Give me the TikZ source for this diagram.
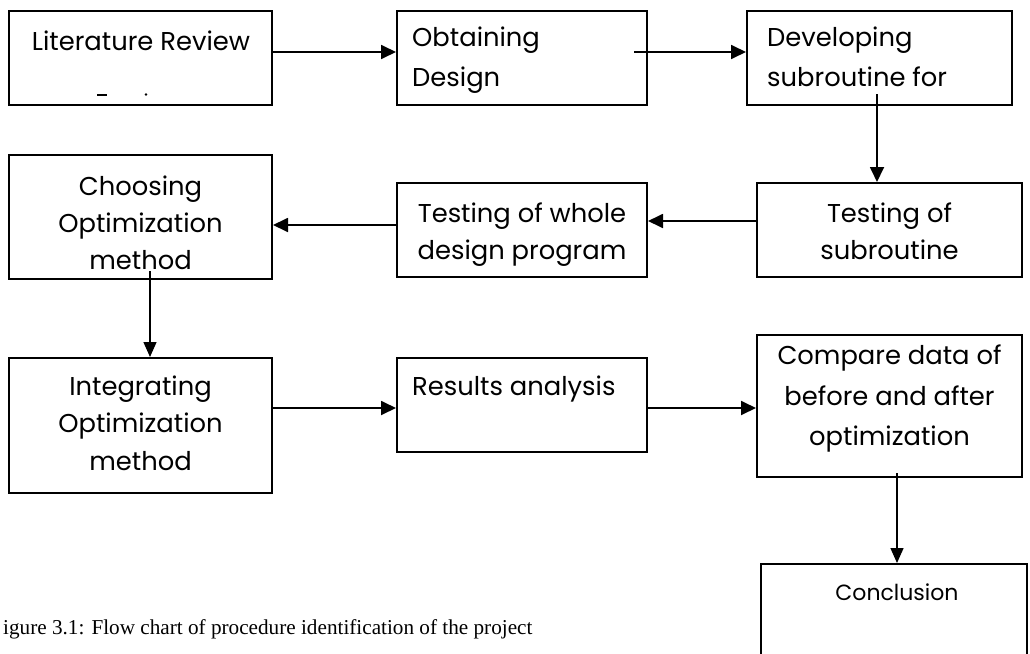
\documentclass[tikz,border=0pt]{standalone}
\usepackage{fontspec}
\setmainfont{Poppins}
\newfontfamily\capfont{Liberation Serif}
\usetikzlibrary{arrows.meta}
\begin{document}
\begin{tikzpicture}[x=1pt,y=-1pt,
  box/.style={draw, line width=2pt, rectangle, inner sep=0pt},
  txt/.style={inner sep=0pt, font=\fontsize{25.8}{26}\selectfont},
  arr/.style={line width=1.8pt, -{Triangle[length=15pt,width=14pt]}},
  thinarr/.style={line width=1.4pt, -{Triangle[length=15pt,width=13pt]}},
]
\useasboundingbox (0,0) rectangle (1030,653);

% boxes
\node[box, minimum width=263pt, minimum height=94pt] (b1) at (140.5,58) {};
\node[box, minimum width=250pt, minimum height=94pt] (b2) at (522,58) {};
\node[box, minimum width=265pt, minimum height=94pt] (b3) at (879.5,58) {};
\node[box, minimum width=265pt, minimum height=94pt] (b4) at (889.5,230) {};
\node[box, minimum width=250pt, minimum height=94pt] (b5) at (522,230) {};
\node[box, minimum width=263pt, minimum height=124pt] (b6) at (140.5,217) {};
\node[box, minimum width=263pt, minimum height=135pt] (b7) at (140.5,425.5) {};
\node[box, minimum width=250pt, minimum height=94pt] (b8) at (522,405) {};
\node[box, minimum width=265pt, minimum height=142pt] (b9) at (889.5,406) {};
\node[box, minimum width=266pt, minimum height=130pt] (b10) at (894,629) {};

% texts
\node[txt, anchor=base] (t1) at (141,50) {Literature Review};
\draw[line width=1.5pt] (97,95) -- (107,95);
\fill (146,94.5) circle (1.4pt);
\node[txt, anchor=base west] (t2a) at (412,46) {Obtaining};
\node[txt, anchor=base west] (t2b) at (412,86) {Design};
\node[txt, anchor=base west] (t3a) at (767,46) {Developing};
\node[txt, anchor=base west] (t3b) at (767,86) {subroutine for};
\node[txt, anchor=base] (t4a) at (889.5,222) {Testing of};
\node[txt, anchor=base] (t4b) at (889.5,259) {subroutine};
\node[txt, anchor=base] (t5a) at (522,222) {Testing of whole};
\node[txt, anchor=base] (t5b) at (522,259) {design program};
\node[txt, anchor=base] (t6a) at (140.5,195) {Choosing};
\node[txt, anchor=base] (t6b) at (140.5,232) {Optimization};
\node[txt, anchor=base] (t6c) at (140.5,269) {method};
\node[txt, anchor=base] (t7a) at (140.5,395) {Integrating};
\node[txt, anchor=base] (t7b) at (140.5,432) {Optimization};
\node[txt, anchor=base] (t7c) at (140.5,470) {method};
\node[txt, anchor=base west] (t8) at (412,395) {Results analysis};
\node[txt, anchor=base] (t9a) at (889.5,364) {Compare data of};
\node[txt, anchor=base] (t9b) at (889.5,405) {before and after};
\node[txt, anchor=base] (t9c) at (889.5,445) {optimization};
\node[txt, anchor=base, font=\fontsize{22}{22}\selectfont] (t10) at (897,600) {Conclusion};

% caption
\node[inner sep=0pt, anchor=base west, font=\capfont\fontsize{21.2}{21}\selectfont] (cap) at (3,634)
  {igure 3.1: Flow chart of procedure identification of the project};

% arrows
\draw[arr] ([yshift=6pt]b1.east) -- ([yshift=6pt]b2.west);
\draw[arr] ([xshift=-14pt,yshift=6pt]b2.east) -- ([yshift=6pt]b3.west);
\draw[arr] ([xshift=-2.5pt,yshift=12pt]b3.south) -- ([xshift=-12.5pt]b4.north);
\draw[arr] ([yshift=9pt]b4.west) -- ([yshift=9pt]b5.east);
\draw[arr] ([yshift=5pt]b5.west) -- ([yshift=-8pt]b6.east);
\draw[thinarr] ([xshift=9.5pt,yshift=9pt]b6.south) -- ([xshift=9.5pt]b7.north);
\draw[arr] ([yshift=17.5pt]b7.east) -- ([yshift=-3pt]b8.west);
\draw[arr] ([yshift=-3pt]b8.east) -- ([yshift=-2pt]b9.west);
\draw[thinarr] ([xshift=7.5pt,yshift=5pt]b9.south) -- ([xshift=3pt]b10.north);
\end{tikzpicture}
\end{document}
